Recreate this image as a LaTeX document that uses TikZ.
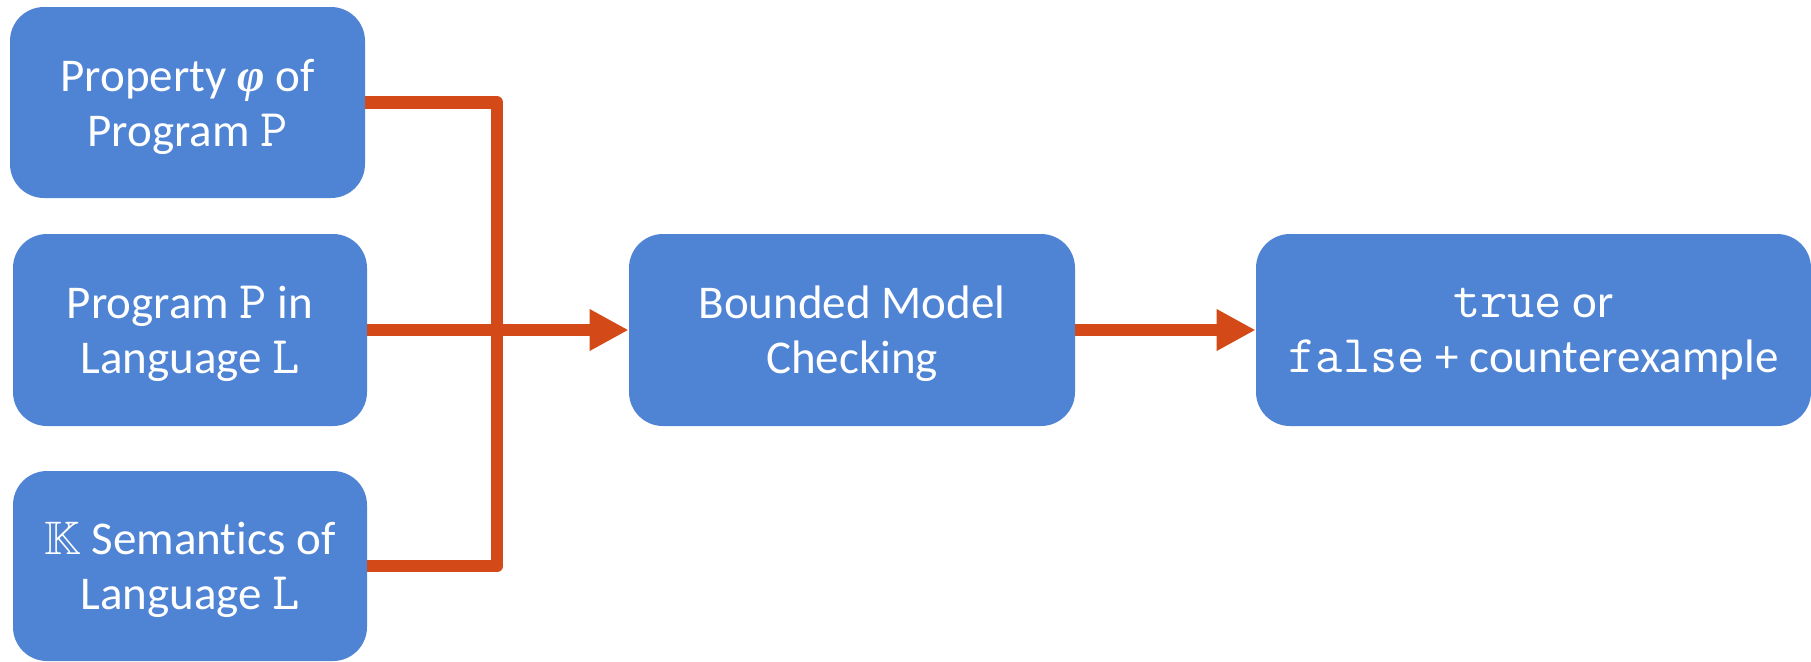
\documentclass[tikz,border=0pt]{standalone}
\usepackage{fontspec}
\setmainfont{Carlito}[Ligatures=NoCommon]
\newfontfamily\greekfont{Liberation Serif}
\usepackage{amssymb}
\usetikzlibrary{arrows.meta}
\usetikzlibrary{positioning}

\definecolor{boxblue}{RGB}{79,131,212}
\definecolor{flowred}{RGB}{211,73,23}

% monospaced names, a little larger than the body text
\newcommand{\code}[1]{{\fontsize{26.5}{27.5}\selectfont\texttt{#1}}}

\tikzset{
  stage/.style={fill=boxblue, rounded corners=17pt, text=white, align=center,
    inner sep=0pt, minimum height=96pt, text depth=0pt,
    font=\fontsize{23.5}{27.5}\selectfont},
  flow/.style={draw=flowred, line width=6.25pt, line join=round},
  tip/.style={-{Triangle[length=19.5pt, width=19.5pt]}, flowred}
}

\begin{document}
\begin{tikzpicture}[x=0.5pt, y=-0.5pt]
        \useasboundingbox (0,0) rectangle (1811,661);
        \node [stage, minimum width=177.5pt, minimum height=95.5pt] (prop) at (187.5,102.5) {Property {\greekfont\bfseries\itshape φ} of\\Program \code{P}};
        \node [stage, minimum width=177pt] (prog) at (190,330) {Program \code{P} in\\Language \code{L}};
        \node [stage, minimum width=177pt, minimum height=95pt] (sem) at (190,566) {$\mathbb{K}$ Semantics of\\Language \code{L}};
        \node [stage, minimum width=223pt] (bmc) at (852,330) {Bounded Model\\Checking};
        \node [stage, minimum width=277.5pt] (result) at (1533.5,330) {\code{true} or\\\code{false} + counterexample};
        \coordinate (bus) at (497,330);

        \draw [flow] (prop.east) -| (bus) |- (sem.east);
        \draw [flow, tip] (prog.east) -- (bmc.west);
        \draw [flow, tip] (bmc.east) -- (result.west);
    \end{tikzpicture}
\end{document}
